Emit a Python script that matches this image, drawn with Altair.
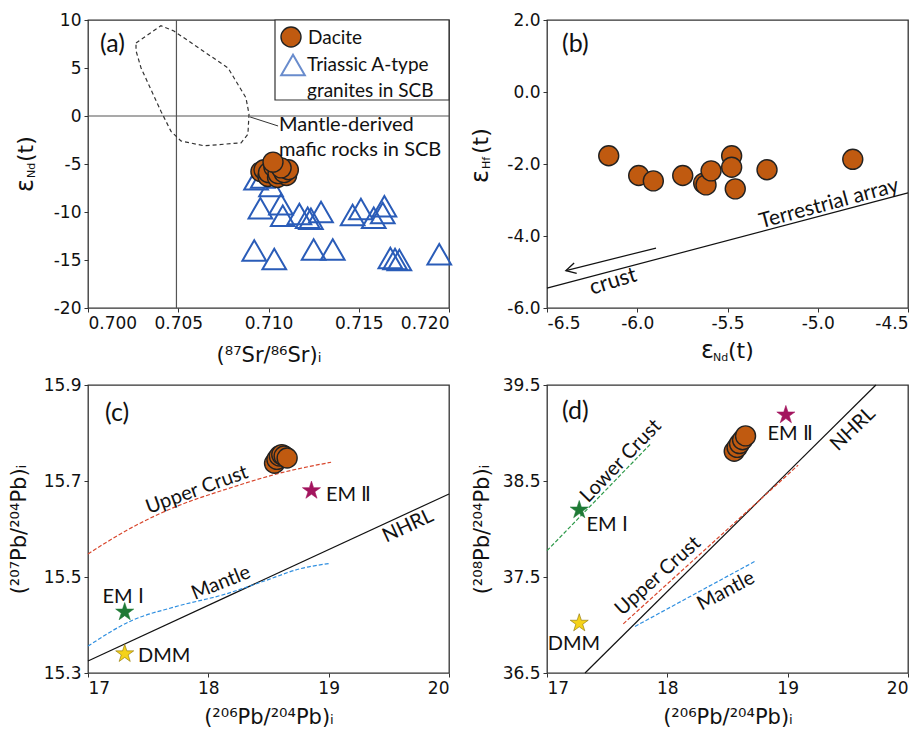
import altair as alt
import pandas as pd

# ---------------- data: panel (a) ----------------
dac_a_sr = [0.70958, 0.70975, 0.70997, 0.71000, 0.71050, 0.71100, 0.71030, 0.71053, 0.71086, 0.71110, 0.71070, 0.71025]
dac_a_nd = [-5.8, -5.6, -6.3, -5.9, -6.4, -6.2, -5.3, -6.0, -5.9, -5.6, -5.4, -4.8]
gra_sr = [0.70931, 0.70968, 0.71014, 0.70955, 0.71069, 0.71079, 0.71171, 0.71217, 0.71235, 0.71291,
          0.71466, 0.71512, 0.71583, 0.71642, 0.71633, 0.70921, 0.71032, 0.71250, 0.71356, 0.71675,
          0.71701, 0.71725, 0.71946]
gra_nd = [-6.6, -6.4, -7.3, -9.6, -9.2, -10.4, -10.2, -10.6, -10.7, -10.0,
          -10.3, -9.7, -10.6, -9.4, -10.1, -14.0, -14.9, -13.9, -13.9, -14.8,
          -14.9, -15.0, -14.4]
mafic_sr = [0.70266, 0.70404, 0.70476, 0.70776, 0.70875, 0.70892, 0.70886, 0.70848, 0.70643,
            0.70515, 0.70460, 0.70404, 0.70294, 0.70266, 0.70266]
mafic_nd = [7.6, 9.4, 8.85, 5.0, 1.9, 0.2, -1.9, -2.8, -3.1, -2.6, -1.6, 0.5, 5.0, 6.8, 7.6]
sr_ref = [0.7049]
nd_ref = [0.0]
leader_sr = [0.70898, 0.71053]
leader_nd = [-0.10, -1.04]

# ---------------- data: panel (b) ----------------
dac_b_nd = [-6.158, -5.992, -5.911, -5.748, -5.632, -5.619, -5.591, -5.477, -5.477, -5.457, -5.281, -4.806]
dac_b_hf = [-1.77, -2.32, -2.47, -2.32, -2.53, -2.58, -2.19, -1.77, -2.09, -2.69, -2.16, -1.87]
ta_nd = [-6.5, -4.5]
ta_hf = [-5.45, -2.80]
arrow_nd = [-5.896, -6.395]
arrow_hf = [-4.335, -4.96]

# ---------------- data: panel (c) ----------------
dac_c_pb6 = [18.55, 18.57, 18.59, 18.61, 18.63, 18.655]
dac_c_pb7 = [15.737, 15.745, 15.752, 15.755, 15.752, 15.748]
uc_c_x = [17.0, 17.32, 17.65, 18.2, 18.62, 19.02]
uc_c_y = [15.548, 15.597, 15.638, 15.687, 15.718, 15.739]
ma_c_x = [17.0, 17.37, 17.71, 18.15, 18.48, 18.76, 19.0]
ma_c_y = [15.356, 15.41, 15.437, 15.465, 15.493, 15.517, 15.528]
nh_c_x = [17.0, 20.0]
nh_c_y = [15.325, 15.673]
star_c_name = ["EM I", "DMM", "EM II"]
star_c_x = [17.305, 17.305, 18.857]
star_c_y = [15.427, 15.340, 15.680]

# ---------------- data: panel (d) ----------------
dac_d_pb6 = [18.556, 18.58, 18.60, 18.625, 18.65]
dac_d_pb8 = [38.81, 38.85, 38.89, 38.93, 38.97]
lc_d_x = [17.0, 17.864]
lc_d_y = [37.774, 38.89]
uc_d_x = [17.634, 19.087]
uc_d_y = [37.012, 38.665]
ma_d_x = [17.731, 18.728]
ma_d_y = [36.985, 37.663]
nh_d_x = [17.316, 19.733]
nh_d_y = [36.5, 39.5]
star_d_name = ["EM I", "DMM", "EM II"]
star_d_x = [17.268, 17.268, 18.985]
star_d_y = [38.198, 37.019, 39.188]

# ---------------- styling ----------------
W, H = 361, 288
DAC = "#c05a10"
BLUE_T = "#2a5cb8"
RED = "#d8462c"
BLUEL = "#2f8fe0"
GREEN = "#2e9a4a"
STAR_COL = {"EM I": "#1f7a35", "DMM": "#f5d21a", "EM II": "#a3145e"}
STAR = "M0,-1L0.2245,-0.309L0.951,-0.309L0.363,0.118L0.588,0.809L0,0.382L-0.588,0.809L-0.363,0.118L-0.951,-0.309L-0.2245,-0.309Z"
CHEV = "M-1,-0.55L0,0L-1,0.55"
FONT = "Lato"
TFONT = "DejaVu Sans"
LS = 20  # annotation font size


def df(xs, ys):
    return pd.DataFrame({"x": xs, "y": ys, "i": list(range(len(xs)))})


ONE = pd.DataFrame({"a": [0]})


def panel(xscale, yscale, xaxis, yaxis):
    def enc(data):
        return alt.Chart(data).encode(
            x=alt.X("x:Q", scale=xscale, axis=xaxis),
            y=alt.Y("y:Q", scale=yscale, axis=yaxis),
        )
    return enc


def ptext(txt, x, y, size=LS, angle=0, align="left", baseline="middle", font=FONT):
    kw = dict(fontSize=size, align=align, baseline=baseline, font=font, color="#111")
    if angle:
        kw["angle"] = angle
    return alt.Chart(ONE).mark_text(**kw).encode(
        x=alt.value(x), y=alt.value(y), text=alt.value(txt))


def ytitle_eps(sub, x, y0, y1, y2):
    return [
        ptext("ε", x, y0, size=24, angle=270, font=TFONT),
        ptext(sub, x + 6, y1, size=11, angle=270, font=TFONT),
        ptext("(t)", x, y2, size=22, angle=270, font=TFONT),
    ]


def fmt(spec):
    return "replace(format(datum.value, '%s'), '\u2212', '-')" % spec


def axis_common(**kw):
    base = dict(tickSize=4, labelPadding=3, labelFontSize=17, labelFont=TFONT,
                titleFontWeight="normal", titleFont=TFONT, titleFontSize=21,
                titleColor="#111", labelColor="#111")
    base.update(kw)
    return alt.Axis(**base)


# ================= panel (a) =================
xs_a = alt.Scale(domain=[0.700, 0.720], nice=False, zero=False)
ys_a = alt.Scale(domain=[-20, 10], nice=False, zero=False)
xa_a = axis_common(values=[0.700, 0.705, 0.710, 0.715, 0.720], labelExpr=fmt(".3f"),
                   title="(⁸⁷Sr/⁸⁶Sr)ᵢ", titleX=W / 2, titleY=47, titleBaseline="middle")
ya_a = axis_common(values=[-20, -15, -10, -5, 0, 5, 10], labelExpr=fmt("d"), title=None)
ea = panel(xs_a, ys_a, xa_a, ya_a)

a_layers = [
    ea(df(sr_ref, nd_ref)).mark_rule(color="#555", strokeWidth=1.2).encode(y=alt.value(0), y2=alt.value(H)),
    ea(df(sr_ref, nd_ref)).mark_rule(color="#555", strokeWidth=1.2).encode(x=alt.value(0), x2=alt.value(W)),
    ea(df(mafic_sr, mafic_nd)).mark_line(color="#333", strokeWidth=1.2, strokeDash=[4, 3]).encode(order="i:Q"),
    ea(df(leader_sr, leader_nd)).mark_line(color="#333", strokeWidth=1).encode(order="i:Q"),
    ea(df(gra_sr, gra_nd)).mark_point(shape="triangle-up", size=560, filled=False, color=BLUE_T,
                                      strokeWidth=2, fill="white", fillOpacity=0),
    ea(df(dac_a_sr, dac_a_nd)).mark_point(shape="circle", size=400, filled=True, color=DAC,
                                          stroke="#222", strokeWidth=1.4, opacity=1),
    # legend box
    alt.Chart(ONE).mark_rect(fill="white", stroke="#333", strokeWidth=1.2).encode(
        x=alt.value(187), x2=alt.value(W), y=alt.value(0), y2=alt.value(80)),
    alt.Chart(ONE).mark_point(shape="circle", size=400, filled=True, color=DAC, stroke="#222",
                              strokeWidth=1.4, opacity=1).encode(x=alt.value(203), y=alt.value(17)),
    alt.Chart(ONE).mark_point(shape="triangle-up", size=560, filled=False, color=BLUE_T,
                              strokeWidth=2).encode(x=alt.value(205), y=alt.value(45)),
    ptext("Dacite", 220, 18, size=19),
    ptext("Triassic A-type", 219, 45, size=19),
    ptext("granites in SCB", 219, 71, size=19),
    ptext("Mantle-derived", 191, 105),
    ptext("mafic rocks in SCB", 191, 130),
    ptext("(a)", 12, 24, size=25),
    # anchor for page origin
    alt.Chart(ONE).mark_rule(color="white", strokeWidth=1).encode(
        x=alt.value(-86.5), x2=alt.value(-85), y=alt.value(-18.5), y2=alt.value(-18.5)),
] + ytitle_eps("Nd", -62, 172, 158, 142)
chart_a = alt.layer(*a_layers).properties(width=W, height=H)

# ================= panel (b) =================
xs_b = alt.Scale(domain=[-6.5, -4.5], nice=False, zero=False)
ys_b = alt.Scale(domain=[-6, 2], nice=False, zero=False)
xa_b = axis_common(values=[-6.5, -6.0, -5.5, -5.0, -4.5], labelExpr=fmt(".1f"), title=None)
ya_b = axis_common(values=[-6, -4, -2, 0, 2], labelExpr=fmt(".1f"), title=None)
eb = panel(xs_b, ys_b, xa_b, ya_b)

b_layers = [
    eb(df(ta_nd, ta_hf)).mark_line(color="#111", strokeWidth=1.2).encode(order="i:Q"),
    eb(df(arrow_nd, arrow_hf)).mark_line(color="#111", strokeWidth=1.2).encode(order="i:Q"),
    eb(df(arrow_nd[1:], arrow_hf[1:])).mark_point(shape=CHEV, size=380, filled=False, color="#111",
                                                  strokeWidth=1.4, angle=166, opacity=1),
    eb(df(dac_b_nd, dac_b_hf)).mark_point(shape="circle", size=400, filled=True, color=DAC,
                                          stroke="#222", strokeWidth=1.4, opacity=1),
    ptext("Terrestrial array", 282, 184, size=21, angle=345, align="center"),
    ptext("crust", 66, 261, size=22, angle=343, align="center"),
    ptext("(b)", 15, 24, size=25),
    ptext("ε", 154, 331, size=24, font=TFONT),
    ptext("Nd", 166, 338, size=11, font=TFONT),
    ptext("(t)", 181, 331, size=22, font=TFONT),
] + ytitle_eps("Hf", -66, 163, 149, 134)
chart_b = alt.layer(*b_layers).properties(width=W, height=H)

# ================= panel (c) =================
xs_c = alt.Scale(domain=[17, 20], nice=False, zero=False)
ys_c = alt.Scale(domain=[15.3, 15.9], nice=False, zero=False)
xa_c = axis_common(values=[17, 18, 19, 20], format="d", title="(²⁰⁶Pb/²⁰⁴Pb)ᵢ",
                   titleX=W / 2, titleY=44, titleBaseline="middle")
ya_c = axis_common(values=[15.3, 15.5, 15.7, 15.9], format=".1f", title="(²⁰⁷Pb/²⁰⁴Pb)ᵢ",
                   titleX=-69, titleY=H / 2, titleAngle=270, titleBaseline="middle", titleAlign="center")
ec = panel(xs_c, ys_c, xa_c, ya_c)


def stars(enc, names, xs, ys):
    out = []
    for n, x, y in zip(names, xs, ys):
        out.append(enc(df([x], [y])).mark_point(shape=STAR, size=360, filled=True, color=STAR_COL[n],
                                                stroke="#8a7000" if n == "DMM" else STAR_COL[n],
                                                strokeWidth=0.6, opacity=1))
    return out


c_layers = [
    ec(df(nh_c_x, nh_c_y)).mark_line(color="#111", strokeWidth=1.2).encode(order="i:Q"),
    ec(df(uc_c_x, uc_c_y)).mark_line(color=RED, strokeWidth=1.2, strokeDash=[4, 2], interpolate="monotone").encode(order="i:Q"),
    ec(df(ma_c_x, ma_c_y)).mark_line(color=BLUEL, strokeWidth=1.2, strokeDash=[4, 2], interpolate="monotone").encode(order="i:Q"),
    ec(df(dac_c_pb6, dac_c_pb7)).mark_point(shape="circle", size=400, filled=True, color=DAC,
                                            stroke="#222", strokeWidth=1.4, opacity=1),
] + stars(ec, star_c_name, star_c_x, star_c_y) + [
    ptext("Upper Crust", 109, 105, angle=340, align="center"),
    ptext("Mantle", 133, 198, angle=338, align="center"),
    ptext("NHRL", 320, 141, angle=335, align="center"),
    ptext("EM Ⅰ", 35, 212, align="center"),
    ptext("DMM", 50, 271),
    ptext("EM Ⅱ", 238, 110),
    ptext("(c)", 17, 28, size=25),
]
chart_c = alt.layer(*c_layers).properties(width=W, height=H)

# ================= panel (d) =================
xs_d = alt.Scale(domain=[17, 20], nice=False, zero=False)
ys_d = alt.Scale(domain=[36.5, 39.5], nice=False, zero=False)
xa_d = axis_common(values=[17, 18, 19, 20], format="d", title="(²⁰⁶Pb/²⁰⁴Pb)ᵢ",
                   titleX=W / 2, titleY=44, titleBaseline="middle")
ya_d = axis_common(values=[36.5, 37.5, 38.5, 39.5], format=".1f", title="(²⁰⁸Pb/²⁰⁴Pb)ᵢ",
                   titleX=-65, titleY=H / 2, titleAngle=270, titleBaseline="middle", titleAlign="center")
ed = panel(xs_d, ys_d, xa_d, ya_d)

d_layers = [
    ed(df(nh_d_x, nh_d_y)).mark_line(color="#111", strokeWidth=1.2).encode(order="i:Q"),
    ed(df(lc_d_x, lc_d_y)).mark_line(color=GREEN, strokeWidth=1.2, strokeDash=[4, 2]).encode(order="i:Q"),
    ed(df(uc_d_x, uc_d_y)).mark_line(color=RED, strokeWidth=1.2, strokeDash=[4, 2]).encode(order="i:Q"),
    ed(df(ma_d_x, ma_d_y)).mark_line(color=BLUEL, strokeWidth=1.2, strokeDash=[4, 2]).encode(order="i:Q"),
    ed(df(dac_d_pb6, dac_d_pb8)).mark_point(shape="circle", size=400, filled=True, color=DAC,
                                            stroke="#222", strokeWidth=1.4, opacity=1),
] + stars(ed, star_d_name, star_d_x, star_d_y) + [
    ptext("Lower Crust", 74, 76, angle=314, align="center"),
    ptext("Upper Crust", 111, 191, angle=318, align="center"),
    ptext("Mantle", 179, 206, angle=332, align="center"),
    ptext("NHRL", 306, 44, angle=316, align="center"),
    ptext("EM Ⅰ", 60, 140, align="center"),
    ptext("DMM", 27, 259, align="center"),
    ptext("EM Ⅱ", 243, 49, align="center"),
    ptext("(d)", 15, 26, size=25),
]
chart_d = alt.layer(*d_layers).properties(width=W, height=H)

chart = alt.ConcatChart(
    concat=[chart_a, chart_b, chart_c, chart_d],
    columns=2,
    spacing={"row": 77, "column": 98},
    bounds="flush",
).properties(padding=0).configure_view(stroke="#333", strokeWidth=1.3).configure_axis(
    domain=False, grid=False, tickColor="#333")

chart.save("out.html", embed_options={"renderer": "svg", "actions": False})
